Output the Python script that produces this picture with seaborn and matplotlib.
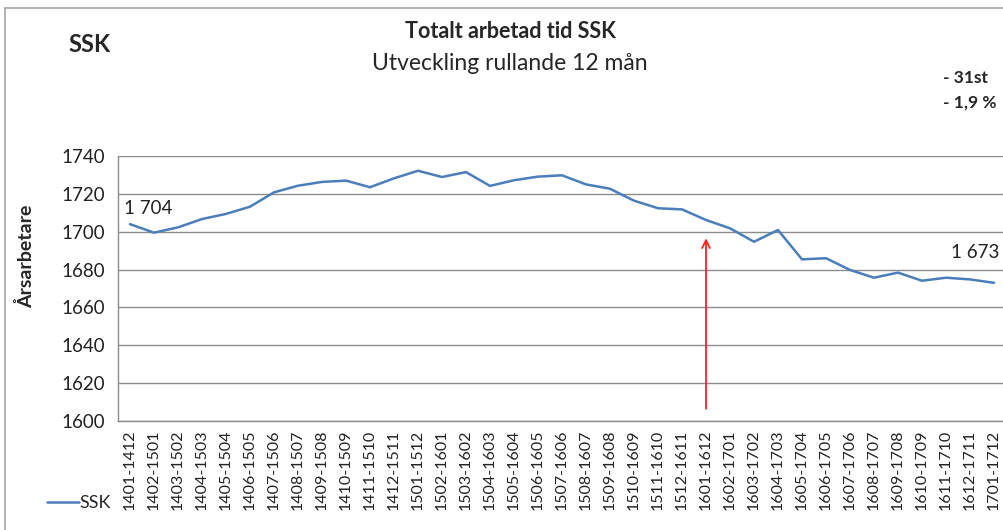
import numpy as np
import pandas as pd
import matplotlib
import seaborn as sns

matplotlib.use('Agg')
import matplotlib.pyplot as plt

# rolling 12 month periods (start-end, yymm)
periods = ['1401-1412', '1402-1501', '1403-1502', '1404-1503', '1405-1504', '1406-1505',
           '1407-1506', '1408-1507', '1409-1508', '1410-1509', '1411-1510', '1412-1511',
           '1501-1512', '1502-1601', '1503-1602', '1504-1603', '1505-1604', '1506-1605',
           '1507-1606', '1508-1607', '1509-1608', '1510-1609', '1511-1610', '1512-1611',
           '1601-1612', '1602-1701', '1603-1702', '1604-1703', '1605-1704', '1606-1705',
           '1607-1706', '1608-1707', '1609-1708', '1610-1709', '1611-1710', '1612-1711',
           '1701-1712']
ssk = [1704.0, 1699.5, 1702.3, 1706.7, 1709.4, 1713.2, 1720.8, 1724.3, 1726.3, 1727.0,
       1723.5, 1728.2, 1732.2, 1728.9, 1731.5, 1724.2, 1727.2, 1729.1, 1729.8, 1725.0,
       1722.7, 1716.4, 1712.4, 1711.8, 1706.2, 1701.8, 1694.7, 1700.9, 1685.4, 1686.0,
       1679.8, 1675.7, 1678.4, 1674.1, 1675.7, 1674.8, 1673.0]
y_ticks = [1600, 1620, 1640, 1660, 1680, 1700, 1720, 1740]
first_label = '1 704'
last_label = '1 673'
change_lines = ['- 31st', '- 1,9 %']
arrow_period = '1601-1612'

W, H = 1004, 530
sns.set_style('white')
plt.rcParams['font.family'] = ['Lato', 'DejaVu Sans']

fig = plt.figure(figsize=(W / 100, H / 100), dpi=100)
ax = fig.add_axes([118 / W, 1 - 421 / H, (1006 - 118) / W, (421 - 156) / H])

df = pd.DataFrame({'Period': periods, 'SSK': ssk})
sns.lineplot(data=df, x='Period', y='SSK', sort=False, color='#4A7EBB', linewidth=1.8,
             ax=ax, label='SSK', legend=False)

ax.set_xlim(-0.5, len(periods) - 0.5)
ax.set_ylim(y_ticks[0], y_ticks[-1])
ax.set_yticks(y_ticks)
ax.set_xticks(range(len(periods)))
ax.set_xticklabels(periods, rotation=90, fontsize=11.5, color='#222222')
ax.tick_params(axis='y', labelsize=13.5, colors='#222222', length=5, width=0.9, color='#888888', pad=4)
ax.tick_params(axis='x', length=0, pad=6)
# category boundary ticks
ax.set_xticks(np.arange(-0.5, len(periods), 1), minor=True)
ax.tick_params(axis='x', which='minor', length=5, width=0.9, color='#888888')
ax.grid(axis='y', color='#8c8c8c', linewidth=1.0)
for s in ['top', 'right']:
    ax.spines[s].set_visible(False)
for s in ['left', 'bottom']:
    ax.spines[s].set_color('#8c8c8c')
    ax.spines[s].set_linewidth(1.0)
ax.set_xlabel('')
ax.set_ylabel('')

# data labels
ax.annotate(first_label, (0, ssk[0]), xytext=(-4, 5), textcoords='offset points',
            fontsize=13.5, ha='left', va='bottom', color='#222222')
ax.annotate(last_label, (len(ssk) - 1, ssk[-1]), xytext=(4, 16), textcoords='offset points',
            fontsize=13.5, ha='right', va='bottom', color='#222222', annotation_clip=False)

# red arrow
ai = periods.index(arrow_period)
ax.annotate('', xy=(ai, 1698), xytext=(ai, 1605),
            arrowprops=dict(arrowstyle='->', color='#ff2020', lw=1.3, mutation_scale=14))

# figure texts
fig.text(26 / W, 1 - 256 / H, 'Årsarbetare', rotation=90, fontsize=14, fontweight='bold',
         ha='center', va='center')
fig.text(510 / W, 1 - 32 / H, 'Totalt arbetad tid SSK', fontsize=15.5, fontweight='bold',
         ha='center', va='center')
fig.text(510 / W, 1 - 63 / H, 'Utveckling rullande 12 mån', fontsize=16.5,
         ha='center', va='center')
fig.text(68 / W, 1 - 45 / H, 'SSK', fontsize=17, fontweight='bold', ha='left', va='center')
fig.text(943 / W, 1 - 78 / H, change_lines[0], fontsize=12.5, fontweight='bold', ha='left', va='center')
fig.text(943 / W, 1 - 103 / H, change_lines[1], fontsize=12.5, fontweight='bold', ha='left', va='center')

# legend bottom left
handles, labels = ax.get_legend_handles_labels()
fig.legend(handles, labels, loc='center left', bbox_to_anchor=(47 / W, 1 - 503 / H),
           frameon=False, fontsize=13, handlelength=1.75, handletextpad=0.05, borderaxespad=0,
           borderpad=0)

# chart border
fig.add_artist(plt.Line2D([5 / W, 5 / W], [0, 1 - 8 / H], color='#a6a6a6', lw=1.2))
fig.add_artist(plt.Line2D([5 / W, 1], [1 - 8 / H, 1 - 8 / H], color='#a6a6a6', lw=1.2))

fig.savefig('out.png', dpi=100)
